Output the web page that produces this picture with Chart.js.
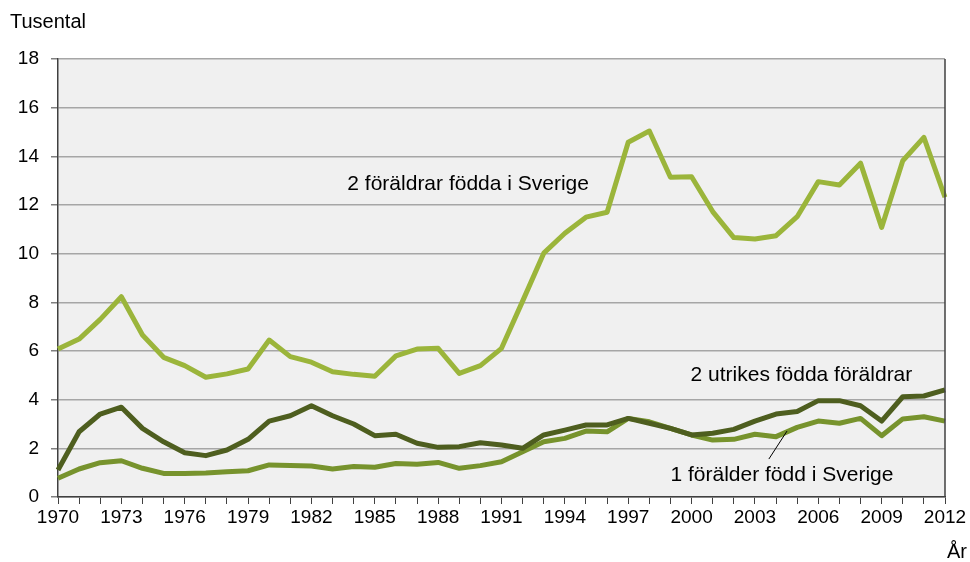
<!DOCTYPE html>
<html>
<head>
<meta charset="utf-8">
<script src="https://cdn.jsdelivr.net/npm/chart.js@4/dist/chart.umd.min.js"></script>
<style>
html,body{margin:0;padding:0;background:#fff;}
#wrap{width:970px;height:562px;position:relative;}
</style>
</head>
<body>
<div id="wrap"><canvas id="c" width="970" height="562"></canvas></div>
<script>
const years = [];
for (let y = 1970; y <= 2012; y++) years.push(String(y));

const twoSwedish = [6.08,6.49,7.30,8.23,6.66,5.74,5.40,4.92,5.06,5.26,6.45,5.77,5.54,5.15,5.04,4.96,5.80,6.08,6.11,5.08,5.40,6.11,8.05,10.02,10.84,11.50,11.70,14.58,15.04,13.14,13.16,11.73,10.66,10.60,10.74,11.52,12.96,12.82,13.72,11.08,13.82,14.78,12.32];
const twoForeign = [1.11,2.68,3.41,3.69,2.82,2.27,1.82,1.70,1.93,2.37,3.12,3.34,3.75,3.34,3.00,2.52,2.58,2.21,2.04,2.07,2.23,2.14,2.00,2.55,2.75,2.96,2.96,3.23,3.03,2.82,2.55,2.62,2.78,3.12,3.41,3.51,3.96,3.96,3.75,3.12,4.12,4.15,4.40];
const oneSwedish = [0.77,1.15,1.41,1.49,1.18,0.97,0.97,0.99,1.04,1.08,1.32,1.29,1.27,1.15,1.25,1.22,1.38,1.35,1.42,1.18,1.29,1.45,1.86,2.27,2.41,2.71,2.68,3.23,3.09,2.82,2.55,2.34,2.37,2.58,2.48,2.86,3.12,3.03,3.23,2.52,3.21,3.30,3.12];

const seriesNames = ['2 föräldrar födda i Sverige','2 utrikes födda föräldrar','1 förälder född i Sverige'];
const colors = ['#9BB53B','#4E5E1F','#77932D'];
const yTicks = {min:0, max:18, step:2};

const FONT = "'Liberation Sans', Arial, sans-serif";

// annotation anchors in data coordinates (year index, value)
const annotations = [
  {text: seriesNames[0], x: 13.7, y: 12.86},
  {text: seriesNames[1], x: 29.95, y: 5.01},
  {text: seriesNames[2], x: 29.0, y: 0.90}
];
const leader = {x1: 33.66, y1: 1.56, x2: 34.52, y2: 2.71};

const bgPlugin = {
  id: 'bg',
  beforeDraw(chart) {
    const {ctx, chartArea: a} = chart;
    ctx.save();
    ctx.fillStyle = '#F0F0F0';
    ctx.fillRect(a.left, a.top, a.right - a.left, a.bottom - a.top);
    ctx.restore();
  },
  afterDatasetsDraw(chart) {
    const {ctx, chartArea: a, scales} = chart;
    const xs = scales.x, ys = scales.y;
    ctx.save();
    // right border
    ctx.strokeStyle = '#404040';
    ctx.lineWidth = 1.5;
    ctx.beginPath();
    ctx.moveTo(a.right, a.top);
    ctx.lineTo(a.right, a.bottom);
    ctx.stroke();
    // labels
    ctx.fillStyle = '#000';
    ctx.font = '21px ' + FONT;
    ctx.textBaseline = 'middle';
    ctx.textAlign = 'left';
    annotations.forEach(an => {
      ctx.fillText(an.text, xs.getPixelForValue(an.x), ys.getPixelForValue(an.y));
    });
    // leader line
    ctx.strokeStyle = '#000';
    ctx.lineWidth = 1;
    ctx.beginPath();
    ctx.moveTo(xs.getPixelForValue(leader.x1), ys.getPixelForValue(leader.y1));
    ctx.lineTo(xs.getPixelForValue(leader.x2), ys.getPixelForValue(leader.y2));
    ctx.stroke();
    // axis titles
    ctx.font = '20px ' + FONT;
    ctx.textAlign = 'left';
    ctx.fillText('Tusental', 10, 22);
    ctx.fillText('År', 947, 552);
    ctx.restore();
  }
};

new Chart(document.getElementById('c'), {
  type: 'line',
  data: {
    labels: years,
    datasets: [
      {label: seriesNames[0], data: twoSwedish, borderColor: colors[0], order: 2},
      {label: seriesNames[1], data: twoForeign, borderColor: colors[1], order: 0},
      {label: seriesNames[2], data: oneSwedish, borderColor: colors[2], order: 1}
    ].map(d => Object.assign(d, {borderWidth: 5, pointRadius: 0, tension: 0, fill: false, borderJoinStyle: 'round'}))
  },
  options: {
    responsive: false,
    animation: false,
    devicePixelRatio: 1,
    layout: {padding: {left: 0, right: 25, top: 59, bottom: 0}},
    plugins: {legend: {display: false}, tooltip: {enabled: false}},
    scales: {
      x: {
        type: 'category',
        offset: false,
        grid: {drawOnChartArea: false, drawTicks: true, tickLength: 7, tickColor: '#404040', lineWidth: 1},
        border: {color: '#404040', width: 1.5},
        ticks: {
          autoSkip: false, maxRotation: 0, minRotation: 0, padding: 2,
          color: '#000', font: {family: FONT, size: 19},
          callback: function(v, i) { return i % 3 === 0 ? this.getLabelForValue(v) : ''; }
        },
        afterFit(s) { s.height = 65; }
      },
      y: {
        min: yTicks.min, max: yTicks.max,
        grid: {color: '#A6A6A6', lineWidth: 1.5, tickLength: 7, tickColor: '#808080'},
        border: {color: '#404040', width: 1.5},
        ticks: {stepSize: yTicks.step, padding: 12, color: '#000', font: {family: FONT, size: 19}},
        afterFit(s) { s.width = 58; }
      }
    }
  },
  plugins: [bgPlugin]
});
</script>
</body>
</html>
